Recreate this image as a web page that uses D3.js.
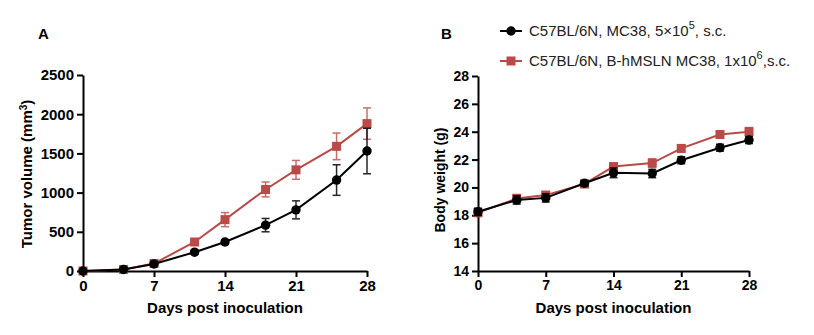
<!DOCTYPE html>
<html>
<head>
<meta charset="utf-8">
<script src="https://cdn.jsdelivr.net/npm/d3@7"></script>
<style>
  body { margin: 0; background: #fff; }
  svg text { font-family: "Liberation Sans", Arial, sans-serif; }
  .axis path, .axis line { stroke: #000; stroke-width: 2px; }
  .axis text { font-weight: bold; fill: #000; }
  .axisTitle { font-size: 15px; font-weight: bold; }
  .legend text { font-size: 15px; fill: #222; }
</style>
</head>
<body>
<div id="chart"></div>
<script>
var days = [0, 4, 7, 11, 14, 18, 21, 25, 28];
var dayTicks = [0, 7, 14, 21, 28];

var tumorMC38 = [0, 20, 90, 240, 370, 585, 780, 1160, 1530];
var tumorMC38Err = [0, 8, 15, 25, 30, 85, 115, 195, 290];
var tumorHMSLN = [0, 20, 95, 370, 655, 1040, 1290, 1590, 1880];
var tumorHMSLNErr = [0, 8, 15, 40, 90, 95, 120, 170, 200];
var tumorTicks = [0, 500, 1000, 1500, 2000, 2500];

var weightMC38 = [18.25, 19.1, 19.25, 20.3, 21.05, 21.0, 21.95, 22.85, 23.4];
var weightMC38Err = [0.25, 0.3, 0.3, 0.2, 0.35, 0.3, 0.25, 0.25, 0.25];
var weightHMSLN = [18.2, 19.2, 19.45, 20.25, 21.5, 21.75, 22.8, 23.8, 24.0];
var weightHMSLNErr = [0.3, 0.3, 0.25, 0.25, 0.2, 0.3, 0.25, 0.25, 0.3];
var weightTicks = [14, 16, 18, 20, 22, 24, 26, 28];

var black = "#000";
var red = "#b94a48";

var svg = d3.select("#chart")
  .append("svg")
  .attr("width", 814)
  .attr("height", 335);

function zip(vals, errs) {
  return days.map(function(d, i) { return { day: d, v: vals[i], e: errs[i] }; });
}

function drawPanel(opt) {
  var g = svg.append("g");
  var x = d3.scaleLinear().domain([0, 28]).range([opt.left, opt.right]);
  var y = d3.scaleLinear().domain(opt.yDomain).range([opt.bottom, opt.top]);

  g.append("g")
    .attr("class", "axis")
    .attr("transform", "translate(0," + opt.bottom + ")")
    .style("font-size", opt.tickFont)
    .call(d3.axisBottom(x).tickValues(dayTicks).tickSize(6).tickSizeOuter(0).tickPadding(3).tickFormat(d3.format("d")));

  g.append("g")
    .attr("class", "axis")
    .attr("transform", "translate(" + opt.left + ",0)")
    .style("font-size", opt.tickFont)
    .call(d3.axisLeft(y).tickValues(opt.yTicks).tickSize(6).tickSizeOuter(0).tickPadding(3).tickFormat(d3.format("d")));

  // series: red first, black on top
  opt.series.forEach(function(s) {
    var pts = zip(s.vals, s.errs);
    var eb = g.append("g").attr("stroke", s.color).attr("stroke-width", 1.5).attr("opacity", s.errOpacity);
    pts.filter(function(p) { return p.e > 0; }).forEach(function(p) {
      var cx = x(p.day);
      eb.append("line").attr("x1", cx).attr("x2", cx).attr("y1", y(p.v - p.e)).attr("y2", y(p.v + p.e));
      eb.append("line").attr("x1", cx - 4).attr("x2", cx + 4).attr("y1", y(p.v + p.e)).attr("y2", y(p.v + p.e));
      eb.append("line").attr("x1", cx - 4).attr("x2", cx + 4).attr("y1", y(p.v - p.e)).attr("y2", y(p.v - p.e));
    });

    g.append("path")
      .datum(pts)
      .attr("fill", "none")
      .attr("stroke", s.color)
      .attr("stroke-width", 2)
      .attr("d", d3.line().x(function(p) { return x(p.day); }).y(function(p) { return y(p.v); }));

    if (s.shape === "square") {
      g.selectAll(null).data(pts).enter().append("rect")
        .attr("x", function(p) { return x(p.day) - 4.5; })
        .attr("y", function(p) { return y(p.v) - 4.5; })
        .attr("width", 9).attr("height", 9)
        .attr("fill", s.color);
    } else {
      g.selectAll(null).data(pts).enter().append("circle")
        .attr("cx", function(p) { return x(p.day); })
        .attr("cy", function(p) { return y(p.v); })
        .attr("r", 4.7)
        .attr("fill", s.color);
    }
  });

  g.append("text")
    .attr("class", "axisTitle")
    .attr("x", (opt.left + opt.right) / 2)
    .attr("y", opt.bottom + 42)
    .attr("text-anchor", "middle")
    .text("Days post inoculation");

  var yt = g.append("text")
    .attr("class", "axisTitle")
    .style("font-size", opt.yTitleFont)
    .attr("transform", "translate(" + opt.yTitleX + "," + opt.yTitleY + ") rotate(-90)")
    .attr("text-anchor", "middle");
  yt.append("tspan").text(opt.yTitle);
  if (opt.yTitleSup) {
    yt.append("tspan").attr("dy", -5).attr("font-size", "10px").text(opt.yTitleSup);
    yt.append("tspan").attr("dy", 5).text(opt.yTitleEnd);
  }

  g.append("text")
    .attr("x", opt.letterX)
    .attr("y", 39)
    .attr("font-size", "15px")
    .attr("font-weight", "bold")
    .text(opt.letter);
}

drawPanel({
  letter: "A", letterX: 38,
  left: 83, right: 367, top: 75, bottom: 271, tickFont: "15px",
  yDomain: [0, 2500], yTicks: tumorTicks,
  yTitle: "Tumor volume (mm", yTitleSup: "3", yTitleEnd: ")",
  yTitleX: 32, yTitleY: 174, yTitleFont: "15px",
  series: [
    { vals: tumorHMSLN, errs: tumorHMSLNErr, color: red, shape: "square", errOpacity: 0.8 },
    { vals: tumorMC38, errs: tumorMC38Err, color: black, shape: "circle", errOpacity: 0.85 }
  ]
});

drawPanel({
  letter: "B", letterX: 441,
  left: 478, right: 749, top: 76, bottom: 271, tickFont: "14px",
  yDomain: [14, 28], yTicks: weightTicks,
  yTitle: "Body weight (g)",
  yTitleX: 445, yTitleY: 180, yTitleFont: "14px",
  series: [
    { vals: weightHMSLN, errs: weightHMSLNErr, color: red, shape: "square", errOpacity: 0.8 },
    { vals: weightMC38, errs: weightMC38Err, color: black, shape: "circle", errOpacity: 0.85 }
  ]
});

// legend
var legendItems = [
  { color: black, shape: "circle", parts: ["C57BL/6N, MC38, 5\u00d710", "5", ", s.c."], y: 31 },
  { color: red, shape: "square", parts: ["C57BL/6N, B-hMSLN MC38, 1x10", "6", ",s.c."], y: 61 }
];
var legend = svg.append("g").attr("class", "legend");
legendItems.forEach(function(it) {
  legend.append("line").attr("x1", 500).attr("x2", 522).attr("y1", it.y).attr("y2", it.y)
    .attr("stroke", it.color).attr("stroke-width", 2);
  if (it.shape === "square") {
    legend.append("rect").attr("x", 511 - 4.5).attr("y", it.y - 4.5).attr("width", 9).attr("height", 9).attr("fill", it.color);
  } else {
    legend.append("circle").attr("cx", 511).attr("cy", it.y).attr("r", 4.7).attr("fill", it.color);
  }
  var t = legend.append("text").attr("x", 529).attr("y", it.y + 5);
  t.append("tspan").text(it.parts[0]);
  t.append("tspan").attr("dy", -7).attr("font-size", "11px").text(it.parts[1]);
  t.append("tspan").attr("dy", 7).text(it.parts[2]);
});
</script>
</body>
</html>
